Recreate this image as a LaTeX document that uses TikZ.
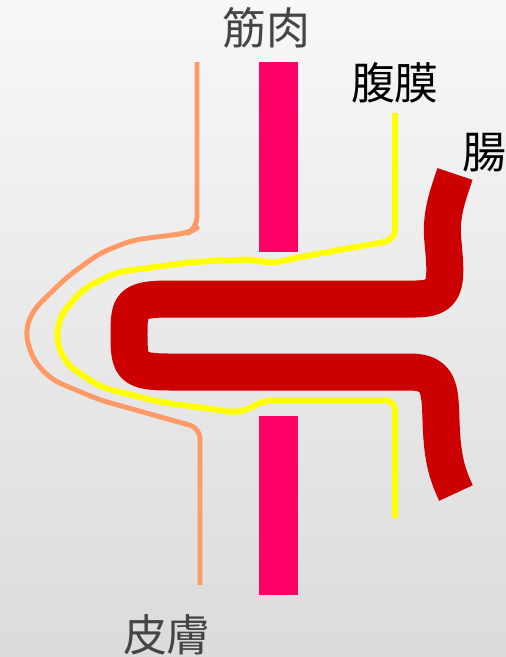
\documentclass[tikz,border=0pt]{standalone}
\usepackage{fontspec}
\newfontfamily\jp{Noto Sans CJK JP}
\usetikzlibrary{positioning}
\definecolor{skin}{HTML}{FF9966}
\definecolor{muscle}{HTML}{FF0066}
\definecolor{perit}{HTML}{FFFF00}
\definecolor{gut}{HTML}{CC0000}
\definecolor{ink}{HTML}{454545}
\tikzset{layer/.style={line join=round,line cap=butt},
 skinline/.style={layer,draw=skin,line width=2.8pt,rounded corners=6pt},
 peritline/.style={layer,draw=perit,line width=3.4pt,rounded corners=6pt},
 gutline/.style={layer,draw=gut,line width=0.74cm},
 musclebar/.style={fill=muscle,inner sep=0pt,minimum width=0.78cm},
 lbl/.style={font=\jp\fontsize{25}{25}\selectfont,inner sep=0pt}}

\begin{document}
\begin{tikzpicture}[x=0.02cm,y=-0.02cm]
\shade[top color=black!3,bottom color=black!14] (0,0) rectangle (506,657);
\useasboundingbox (0,0) rectangle (506,657);
% skin
\draw[skinline] (197,62) -- (197,228) -- (188,233) -- (133,240) -- (100,253) -- (67,277)
 -- (33,310) -- (25,332) -- (33,360) -- (52,380) -- (100,400) -- (200,428) -- (200,585);
% peritoneum
\draw[peritline] (395,113) -- (395,240) -- (300,257) -- (270,264) -- (255,259) -- (193,262)
 -- (117,272) -- (83,289) -- (60,316) -- (56,340) -- (66,364) -- (100,387) -- (160,402)
 -- (240,413) -- (265,400) -- (395,400) -- (395,518);
% intestine loop
\draw[gutline] (455,174) .. controls (448,195) and (440,215) .. (443,242)
 .. controls (447,285) and (447,299) .. (415,299) -- (170,299)
 .. controls (130,299) and (129,305) .. (129,335)
 .. controls (129,367) and (132,372) .. (170,372) -- (410,372)
 .. controls (440,372) and (440,390) .. (441,420)
 .. controls (442,455) and (446,472) .. (456,493);
% muscle wall
\node[musclebar,minimum height=3.8cm] (mtop) at (278.5,157) {};
\node[musclebar,minimum height=3.58cm] (mbot) at (278.5,505.5) {};
% labels
\node[lbl,text=ink] (muscle) at (266,28) {筋肉};
\node[lbl] (perit) at (395,83) {腹膜};
\node[lbl] (gut) at (484,153) {腸};
\node[lbl,text=ink] (skin) at (167,635) {皮膚};
\end{tikzpicture}
\end{document}
